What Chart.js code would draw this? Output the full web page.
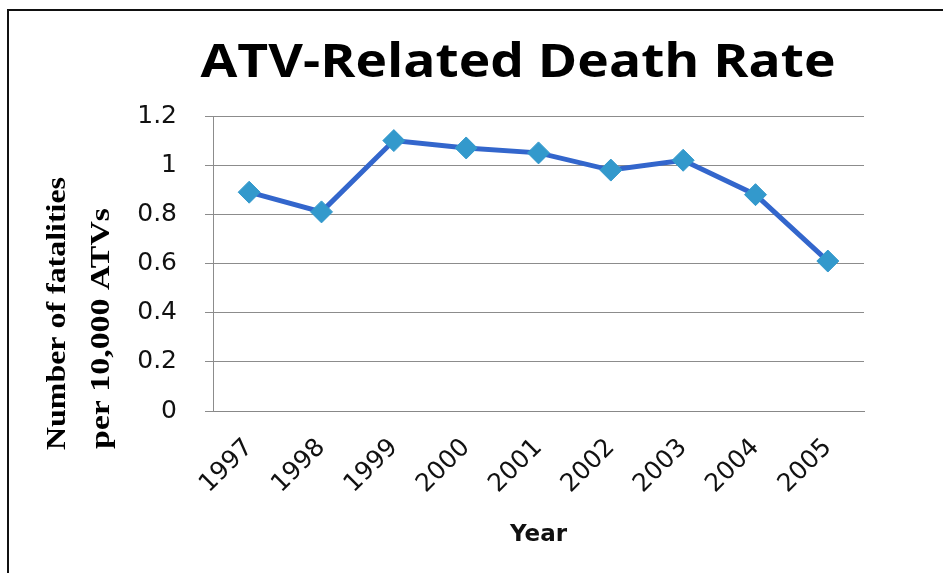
<!DOCTYPE html>
<html>
<head>
<meta charset="utf-8">
<script src="https://cdn.jsdelivr.net/npm/chart.js@4.4.1/dist/chart.umd.min.js"></script>
<style>
  html, body { margin: 0; padding: 0; background: #fff; }
  #wrap { width: 943px; height: 573px; position: relative; }
</style>
</head>
<body>
<div id="wrap"><canvas id="chart"></canvas></div>
<script>
const years = ['1997', '1998', '1999', '2000', '2001', '2002', '2003', '2004', '2005'];
const deathRate = [0.89, 0.81, 1.10, 1.07, 1.05, 0.98, 1.02, 0.88, 0.61];
const yTitleLines = ['Number of fatalities', 'per 10,000 ATVs'];
const chartTitle = 'ATV-Related Death Rate';
const xTitle = 'Year';

// black frame on the left and top edge, like the cropped original
const framePlugin = {
    id: 'frame',
    afterDraw(chart) {
        const ctx = chart.ctx
        ctx.save()
        ctx.strokeStyle = '#111'
        ctx.lineWidth = 2
        ctx.beginPath()
        ctx.moveTo(8, 573)
        ctx.lineTo(8, 10)
        ctx.lineTo(943, 10)
        ctx.stroke()
        ctx.restore()
    }
}

// the title is off-centre and a bit wide in the original, so draw it by hand
const titlePlugin = {
    id: 'bigTitle',
    afterDraw(chart) {
        const ctx = chart.ctx
        ctx.save()
        ctx.fillStyle = '#000'
        ctx.font = 'bold 47px "Open Sans"'
        ctx.textAlign = 'center'
        ctx.textBaseline = 'alphabetic'
        const w = ctx.measureText(chartTitle).width
        ctx.translate(518, 77)
        ctx.scale(635 / w, 1)
        ctx.fillText(chartTitle, 0, 0)
        ctx.restore()
    }
}

// two-line rotated y title, start-aligned at the bottom
const yTitlePlugin = {
    id: 'yTitle',
    afterDraw(chart) {
        const ctx = chart.ctx
        const spots = [[58, 450, 273], [102, 449, 241]]
        ctx.save()
        ctx.fillStyle = '#000'
        ctx.font = 'bold 27px "Liberation Serif"'
        ctx.textBaseline = 'middle'
        ctx.textAlign = 'left'
        yTitleLines.forEach((line, i) => {
            const [x, y, len] = spots[i]
            const w = ctx.measureText(line).width
            ctx.save()
            ctx.translate(x, y)
            ctx.rotate(-Math.PI / 2)
            ctx.scale(len / w, 1)
            ctx.fillText(line, 0, 0)
            ctx.restore()
        })
        ctx.restore()
    }
}

new Chart(document.getElementById('chart'), {
    type: 'line',
    data: {
        labels: years,
        datasets: [{
            data: deathRate,
            borderColor: '#3366cc',
            borderWidth: 5,
            pointStyle: 'rectRot',
            pointRadius: 11,
            pointHoverRadius: 11,
            pointBackgroundColor: '#3399cc',
            pointBorderColor: '#3399cc',
            pointBorderWidth: 1,
            tension: 0,
        }]
    },
    options: {
        responsive: true,
        maintainAspectRatio: false,
        animation: false,
        layout: {padding: {left: 0, right: 79, top: 116, bottom: 0}},
        plugins: {
            legend: {display: false},
            tooltip: {enabled: false},
            title: {display: false},
        },
        scales: {
            x: {
                offset: true,
                grid: {display: false},
                border: {display: true, color: '#888'},
                ticks: {
                    color: '#111',
                    font: {family: 'DejaVu Sans', size: 25},
                    minRotation: 45,
                    maxRotation: 45,
                    padding: 14,
                },
                title: {
                    display: true,
                    text: xTitle,
                    color: '#111',
                    font: {family: 'DejaVu Sans', size: 23, weight: 'bold'},
                    padding: {top: 0, bottom: 24},
                },
                afterFit(scale) {
                    scale.height = 162
                },
            },
            y: {
                min: 0,
                max: 1.2,
                ticks: {
                    stepSize: 0.2,
                    color: '#111',
                    font: {family: 'DejaVu Sans', size: 25},
                    padding: 28,
                    callback: v => Math.round(v * 10) / 10,
                },
                grid: {color: '#8c8c8c', lineWidth: 1, tickLength: 8},
                border: {color: '#8c8c8c'},
                afterFit(scale) {
                    scale.width = 213
                },
            },
        },
    },
    plugins: [framePlugin, titlePlugin, yTitlePlugin],
})
</script>
</body>
</html>
